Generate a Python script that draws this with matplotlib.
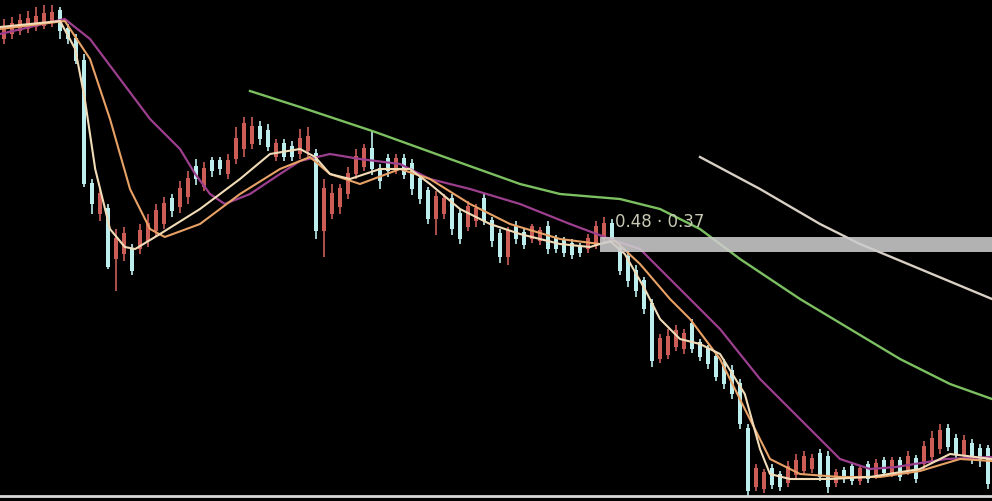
import numpy as np
import matplotlib
matplotlib.use("Agg")
from matplotlib import pyplot as plt

# daily candles (price in chart units)
opens = [462, 467, 470, 472, 474, 475, 478, 490, 472, 462, 440, 317, 287, 292, 242, 247,
         252, 252, 260, 270, 277, 302, 294, 304, 334, 314, 340, 340, 327, 342, 352, 357,
         374, 370, 344, 357, 354, 347, 350, 347, 270, 287, 294, 307, 327, 334, 352, 332,
         342, 332, 342, 337, 322, 310, 282, 287, 302, 287, 274, 280, 302, 280, 267, 244,
         274, 268, 262, 260, 274, 262, 260, 257, 254, 252, 256, 262, 277, 252, 244, 230,
         220, 197, 142, 146, 154, 152, 177, 158, 152, 144, 137, 130, 117, 72, 14, 12,
         32, 26, 18, 26, 30, 32, 47, 44, 18, 30, 34, 20, 36, 26, 40, 28,
         40, 30, 42, 37, 44, 52, 72, 62, 46, 57, 52, 52]
closes = [474, 477, 480, 482, 484, 487, 488, 470, 462, 440, 317, 297, 307, 234, 262, 267,
          230, 270, 277, 290, 297, 290, 312, 322, 322, 332, 330, 332, 340, 362, 377, 374,
          362, 354, 357, 344, 344, 362, 364, 270, 312, 307, 312, 327, 344, 352, 332, 320,
          330, 342, 326, 312, 302, 282, 304, 302, 272, 262, 294, 292, 280, 260, 244, 270,
          262, 256, 274, 270, 252, 252, 248, 246, 248, 262, 274, 277, 262, 230, 220, 210,
          192, 140, 162, 164, 170, 167, 152, 144, 137, 124, 117, 107, 77, 10, 32, 28,
          16, 14, 34, 40, 44, 42, 24, 14, 28, 22, 20, 32, 22, 37, 28, 40,
          24, 44, 22, 54, 62, 70, 54, 47, 60, 42, 40, 17]
highs = [482, 484, 487, 490, 494, 496, 496, 494, 477, 467, 447, 322, 312, 297, 272, 274,
         257, 277, 287, 297, 304, 307, 320, 330, 342, 339, 344, 344, 347, 374, 384, 384,
         380, 377, 362, 362, 360, 372, 374, 352, 322, 317, 317, 334, 352, 357, 370, 337,
         347, 347, 347, 342, 327, 314, 310, 307, 307, 292, 300, 297, 307, 284, 272, 274,
         280, 272, 277, 274, 280, 266, 264, 262, 258, 267, 280, 284, 282, 257, 250, 236,
         224, 202, 167, 172, 176, 172, 182, 162, 156, 148, 142, 136, 122, 77, 37, 32,
         37, 30, 40, 47, 50, 47, 52, 50, 32, 34, 38, 36, 40, 42, 44, 44,
         44, 50, 46, 60, 70, 77, 77, 67, 66, 62, 57, 56]
lows = [457, 462, 466, 468, 470, 472, 474, 462, 457, 437, 314, 287, 280, 232, 210, 240,
        226, 247, 254, 264, 272, 284, 288, 297, 316, 310, 324, 326, 322, 337, 344, 352,
        356, 350, 340, 340, 340, 342, 344, 262, 244, 282, 287, 302, 322, 330, 326, 312,
        324, 327, 322, 306, 297, 277, 266, 282, 266, 257, 270, 274, 276, 254, 238, 236,
        257, 252, 258, 256, 247, 248, 244, 242, 244, 248, 252, 257, 258, 226, 214, 204,
        187, 134, 138, 142, 150, 147, 148, 140, 132, 120, 112, 102, 72, 5, 10, 8,
        12, 10, 14, 22, 26, 28, 20, 8, 14, 18, 16, 16, 18, 22, 24, 24,
        20, 26, 18, 32, 40, 47, 50, 42, 42, 37, 34, 12]

# moving average lines (candle index, value)
ma5_x = [-0.5, 7, 8.9, 10.1, 11.4, 13.25, 15.1, 16.4, 19.5, 24.5, 29.5, 33.25, 37, 38.9,
         40.75, 43.25, 47, 50.75, 53.25, 57, 60.75, 64.5, 69.5, 73.25, 75.75, 77.6, 80.1,
         82, 84.5, 87, 89.5, 92.6, 94.5, 95.75, 98.25, 103.25, 108.25, 114.5, 118.25, 123.5]
ma5_y = [474, 480, 452, 402, 332, 272, 254, 252, 267, 292, 322, 347, 352, 344,
         327, 322, 332, 332, 317, 292, 277, 267, 257, 254, 260, 247, 212,
         182, 162, 157, 147, 107, 52, 27, 22, 22, 24, 32, 47, 42]
ma10_x = [-0.5, 7.6, 10.75, 13.25, 15.75, 18.25, 20.1, 24.5, 29.5, 34.5, 38.25, 40.75,
          44.5, 49.5, 53.25, 58.25, 63.25, 69.5, 74.5, 76.4, 79.5, 83.25, 85.75, 89.5,
          92.6, 95.75, 99.5, 104.5, 109.5, 114.5, 119.5, 123.5]
ma10_y = [472, 480, 442, 382, 312, 272, 264, 277, 307, 332, 344, 327,
          317, 332, 322, 297, 277, 262, 257, 260, 237, 202, 182, 142,
          92, 42, 27, 24, 24, 30, 42, 40]
ma20_x = [-0.5, 7.6, 10.75, 14.5, 18.25, 22, 23.9, 25.75, 27.6, 30.75, 34.5, 37, 40.75,
          44.5, 49.5, 53.25, 58.25, 64.5, 70.75, 75.75, 79.5, 84.5, 89.5, 94.5, 99.5,
          104.5, 108.25, 111.5, 117.75, 123.5]
ma20_y = [467, 482, 462, 422, 382, 352, 327, 307, 297, 307, 327, 340, 347,
          342, 337, 322, 312, 297, 277, 262, 252, 212, 172, 122, 82,
          42, 32, 34, 42, 44]
ma60_x = [30.75, 37, 46.4, 55.75, 64.5, 69.5, 77, 82, 87, 92, 99.5, 105.75, 112, 118.25, 123.5]
ma60_y = [410, 394, 369, 342, 317, 307, 302, 292, 272, 242, 202, 172, 142, 117, 102]
ma120_x = [87, 94.5, 102, 107, 114.5, 123.5]
ma120_y = [344, 312, 277, 257, 232, 202]

price_label = "0.48 · 0.37"

idx = np.arange(len(opens))
o = np.array(opens)
c = np.array(closes)
up = c >= o
cols = np.where(up, "#cc5c56", "#bdeeee")

fig = plt.figure(figsize=(9.92, 5.02), dpi=100)
fig.patch.set_facecolor("black")
ax = fig.add_axes([0, 0, 1, 1])
ax.set_facecolor("black")

ax.vlines(idx, lows, highs, colors=cols, lw=1.2, zorder=2)
ax.bar(idx, np.abs(c - o) + 1, bottom=np.minimum(o, c), width=0.6, color=cols, zorder=3)

ax.plot(ma120_x, ma120_y, color="#d8d0c4", lw=1.7, zorder=4)
ax.plot(ma60_x, ma60_y, color="#7cc062", lw=1.7, zorder=4)
ax.plot(ma20_x, ma20_y, color="#9c3f8e", lw=1.6, zorder=4, solid_joinstyle="round")
ax.plot(ma10_x, ma10_y, color="#e8a266", lw=1.5, zorder=5, solid_joinstyle="round")
ax.plot(ma5_x, ma5_y, color="#f2dcb8", lw=1.5, zorder=5, solid_joinstyle="round")

# price band and label
ax.fill_between([74.5, 123.5], 249, 264, color="#cccccc", alpha=0.88, lw=0, zorder=6)
ax.text(76.4, 280, price_label, color="#c8c8b4", fontsize=12, va="center", zorder=7)

ax.axhline(5, color="#d8d8d8", lw=2, zorder=6)

ax.set_xlim(-0.5, 123.5)
ax.set_ylim(0, 502)
ax.axis("off")

fig.savefig("out.png", dpi=100, facecolor="black")
